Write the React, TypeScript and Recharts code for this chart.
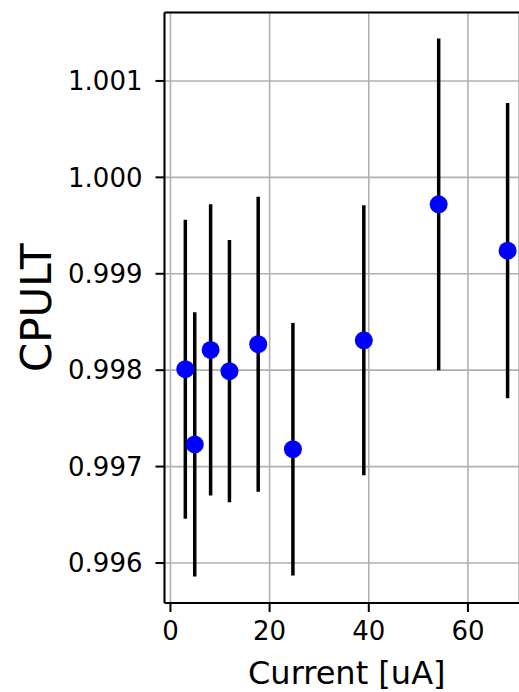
import { ScatterChart, Scatter, XAxis, YAxis, CartesianGrid, ErrorBar, ReferenceLine } from 'recharts';

const CURRENT = [3.0, 4.9, 8.1, 11.9, 17.7, 24.7, 39.0, 54.1, 68.0];
const CPULT = [0.99801, 0.99723, 0.99821, 0.99799, 0.99827, 0.99718, 0.99831, 0.99972, 0.99924];
const CPULT_ERR = [0.00155, 0.00137, 0.00151, 0.00136, 0.00153, 0.00131, 0.0014, 0.00172, 0.00153];

const X_TICKS = [0, 20, 40, 60];
const Y_TICKS = [0.996, 0.997, 0.998, 0.999, 1.0, 1.001];
const X_DOMAIN = [-1.2, 70.3];
const Y_DOMAIN = [0.995585, 1.00171];

const FONT = 'DejaVu Sans';

const data = CURRENT.map((x, i) => ({ x, y: CPULT[i], err: CPULT_ERR[i] }));

function YLabel(props: any) {
  const { x, y, height } = props.viewBox;
  const bx = x + 51;
  const by = y + height / 2;
  return (
    <text x={bx} y={by} transform={`rotate(-90, ${bx}, ${by})`} textAnchor="middle" fontSize={42} fontFamily={FONT} fill="#000">
      CPULT
    </text>
  );
}

function XLabel(props: any) {
  const { x, y, width } = props.viewBox;
  return (
    <text x={x + width / 2 + 5} y={y + 81} textAnchor="middle" fontSize={32} fontFamily={FONT} fill="#000">
      Current [uA]
    </text>
  );
}

const Dot = (props: any) => <circle cx={props.cx} cy={props.cy} r={9} fill="#0000ff" />;

export default function App() {
  const tick = { fontSize: 26, fontFamily: FONT, fill: '#000' };
  return (
    <div style={{ position: 'absolute', left: 0, top: 0 }}>
      <ScatterChart width={519} height={692} margin={{ top: 12.5, right: 0, bottom: 0, left: 0 }}>
        <CartesianGrid stroke="#b0b0b0" strokeWidth={1.6} />
        <XAxis
          type="number"
          dataKey="x"
          domain={X_DOMAIN}
          ticks={X_TICKS}
          interval={0}
          allowDataOverflow
          height={89}
          tick={tick}
          tickSize={9}
          tickMargin={10}
          stroke="#000"
          axisLine={{ stroke: '#000', strokeWidth: 2 }}
          tickLine={{ stroke: '#000', strokeWidth: 2 }}
          label={{ content: XLabel }}
        />
        <YAxis
          type="number"
          dataKey="y"
          domain={Y_DOMAIN}
          ticks={Y_TICKS}
          interval={0}
          allowDataOverflow
          width={164.5}
          tick={tick}
          tickSize={9}
          tickMargin={13}
          tickFormatter={(v: number) => v.toFixed(3)}
          stroke="#000"
          axisLine={{ stroke: '#000', strokeWidth: 2 }}
          tickLine={{ stroke: '#000', strokeWidth: 2 }}
          label={{ content: YLabel }}
        />
        <ReferenceLine y={Y_DOMAIN[1]} stroke="#000" strokeWidth={2} />
        <Scatter data={data} dataKey="y" shape={Dot} isAnimationActive={false}>
          <ErrorBar dataKey="err" direction="y" width={0} stroke="#000" strokeWidth={3.5} isAnimationActive={false} />
        </Scatter>
      </ScatterChart>
    </div>
  );
}
